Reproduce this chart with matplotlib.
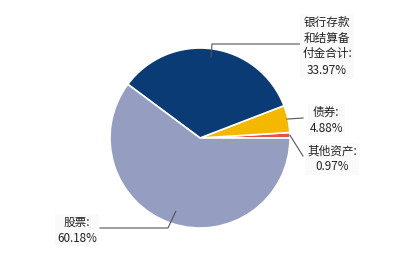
import numpy as np
import matplotlib
matplotlib.use("Agg")
import matplotlib.pyplot as plt

plt.rcParams['font.family'] = ['Noto Sans CJK SC', 'DejaVu Sans']

labels = ['其他资产', '债券', '银行存款\n和结算备\n付金合计', '股票']
values = [0.97, 4.88, 33.97, 60.18]
colors = ['#E8504A', '#F5B800', '#0B3B74', '#959DC0']

W, H = 400, 280
fig = plt.figure(figsize=(4, 2.8), dpi=100)
ax = fig.add_axes([0, 0, 1, 1])
ax.set_xlim(0, W)
ax.set_ylim(0, H)
ax.set_aspect('equal')
ax.axis('off')

cx, cy, R = 200, H - 138, 90
wedges, _ = ax.pie(values, colors=colors, startangle=0, counterclock=True,
                   center=(cx, cy), radius=R,
                   wedgeprops=dict(edgecolor='white', linewidth=1.2))
ax.set_xlim(0, W)
ax.set_ylim(0, H)

# label text positions (pixel, y from top) and leader line paths
text_pos = [(332, 159), (326, 120), (327, 46), (77, 230)]
anchor_r = [1.0, 0.99, 0.91, 0.86]
elbows = [[(303, 156)], [(303, 118)], [(212, 44), (302, 44)], [(168, 228), (100, 228)]]
line_col = '#555555'

for w, lab, v, tp, ar, el in zip(wedges, labels, values, text_pos, anchor_r, elbows):
    mid = np.deg2rad((w.theta1 + w.theta2) / 2)
    ax_x = cx + ar * R * np.cos(mid)
    ax_y = cy + ar * R * np.sin(mid)
    xs = [ax_x] + [p[0] for p in el]
    ys = [ax_y] + [H - p[1] for p in el]
    ax.plot(xs, ys, color=line_col, lw=0.8)
    ax.text(tp[0], H - tp[1], f'{lab}:\n{v:.2f}%', ha='center', va='center',
            fontsize=8.4, color='#222222', linespacing=1.3,
            bbox=dict(boxstyle='square,pad=0.15', fc='#FAFAFA', ec='none'))

fig.savefig('out.png', dpi=100)
